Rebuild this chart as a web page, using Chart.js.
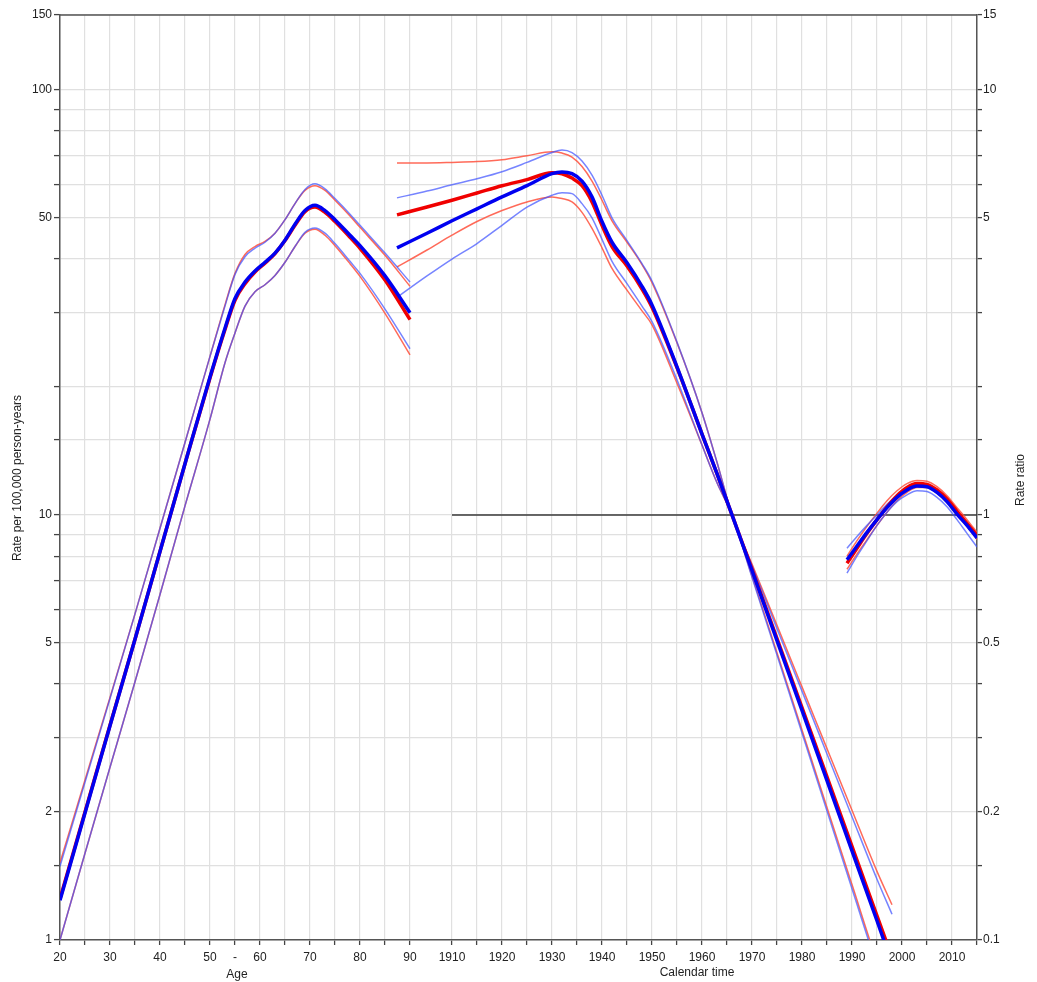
<!DOCTYPE html>
<html>
<head>
<meta charset="utf-8">
<title>Age-period-cohort rates</title>
<script src="https://cdn.jsdelivr.net/npm/chart.js@4.4.0/dist/chart.umd.min.js"></script>
<style>
    html, body { margin: 0; padding: 0; background: #fff; }
    #wrap { width: 1037px; height: 982px; }
</style>
</head>
<body>
<div id="wrap"><canvas id="apc" width="1037" height="982"></canvas></div>
<script>
// =====================================================
// APC plot: age rates (left axis), cohort & period rate ratios (right axis)
// =====================================================

// calendar years share the x axis with age, shifted to the right
const CAL_SHIFT = 1811.6;

// --- Age effect (rate per 100,000 person-years) ---
const ageGroups    = [20, 25, 30, 35, 40, 45, 50, 53, 55, 57, 59, 61, 63, 65, 67, 69, 71, 73, 75, 78, 80, 85, 90];
const ageRateBlue  = [1.24, 1.99, 3.19, 5.1, 8.2, 13.2, 21.1, 27.5, 32.3, 35.3, 37.5, 39.3, 41.3, 44.3, 48.3, 52.0, 53.5, 52.0, 49.5, 45.5, 43.0, 36.5, 29.9];
const ageRateRed   = [1.25, 2.0, 3.2, 5.1, 8.2, 13.2, 21.0, 27.3, 32.0, 35.0, 37.3, 39.1, 41.2, 44.2, 48.0, 51.7, 53.0, 51.5, 49.0, 45.0, 42.4, 35.7, 28.8];
const ageUpperBlue = [1.49, 2.35, 3.7, 5.85, 9.3, 14.8, 23.6, 31.0, 36.8, 40.5, 42.4, 43.8, 46.0, 49.5, 54.0, 58.3, 60.1, 58.5, 55.5, 51.0, 48.0, 41.3, 35.3];
const ageUpperRed  = [1.52, 2.38, 3.72, 5.85, 9.3, 14.8, 23.6, 31.2, 37.0, 41.0, 42.8, 44.0, 46.0, 49.5, 54.0, 58.0, 59.5, 58.0, 55.0, 50.5, 47.5, 40.8, 34.5];
const ageLowerBlue = [1.0, 1.6, 2.55, 4.05, 6.5, 10.5, 16.8, 22.8, 26.8, 31.0, 33.5, 34.8, 36.6, 39.3, 42.8, 46.2, 47.3, 46.0, 43.5, 39.5, 37.0, 30.5, 24.6];
const ageLowerRed  = [1.0, 1.6, 2.55, 4.05, 6.5, 10.5, 16.8, 22.8, 26.8, 31.0, 33.5, 34.8, 36.6, 39.3, 42.8, 46.0, 47.0, 45.5, 43.0, 39.0, 36.4, 29.8, 23.8];

// --- Cohort effect (rate ratio, reference cohort 1966) ---
const cohortYears  = [1899, 1905, 1910, 1915, 1920, 1925, 1930, 1932, 1934, 1936, 1938, 1940, 1942, 1945, 1948, 1950, 1955, 1960, 1963, 1966, 1970, 1975, 1980, 1985, 1990, 1995, 1998];
const cohortRRBlue = [4.25, 4.6, 4.92, 5.25, 5.6, 5.95, 6.35, 6.41, 6.35, 6.1, 5.6, 4.9, 4.38, 3.92, 3.45, 3.12, 2.23, 1.55, 1.25, 1.0, 0.74, 0.506, 0.347, 0.237, 0.162, 0.111, 0.088];
const cohortRRRed  = [5.08, 5.3, 5.5, 5.72, 5.95, 6.15, 6.38, 6.35, 6.2, 5.95, 5.45, 4.8, 4.28, 3.85, 3.4, 3.08, 2.22, 1.55, 1.25, 1.0, 0.745, 0.512, 0.352, 0.242, 0.166, 0.114, 0.091];
const cohortUpBlue = [5.57, 5.78, 5.98, 6.18, 6.42, 6.75, 7.12, 7.22, 7.12, 6.8, 6.3, 5.65, 5.0, 4.42, 3.9, 3.55, 2.55, 1.74, 1.33, 1.0, 0.76, 0.54, 0.385, 0.274, 0.195, 0.139, 0.115];
const cohortUpRed  = [6.73, 6.73, 6.75, 6.78, 6.85, 7.0, 7.15, 7.1, 6.95, 6.6, 6.1, 5.5, 4.92, 4.38, 3.88, 3.52, 2.54, 1.74, 1.33, 1.0, 0.766, 0.55, 0.394, 0.282, 0.202, 0.145, 0.121];
const cohortLoBlue = [3.25, 3.65, 4.0, 4.35, 4.8, 5.3, 5.65, 5.73, 5.7, 5.4, 5.0, 4.45, 3.95, 3.5, 3.1, 2.85, 2.08, 1.46, 1.19, 1.0, 0.713, 0.468, 0.307, 0.201, 0.132, 0.087, 0.07];
const cohortLoRed  = [3.83, 4.2, 4.55, 4.9, 5.2, 5.45, 5.6, 5.55, 5.45, 5.15, 4.72, 4.25, 3.8, 3.38, 3.02, 2.8, 2.04, 1.46, 1.19, 1.0, 0.718, 0.474, 0.312, 0.205, 0.135, 0.089, 0.072];

// --- Period effect (rate ratio) ---
const periodYears  = [1989, 1991, 1993, 1995, 1997, 1999, 2001, 2003, 2005, 2007, 2009, 2011, 2013, 2015];
const periodRRBlue = [0.784, 0.845, 0.91, 0.975, 1.04, 1.10, 1.145, 1.17, 1.165, 1.13, 1.075, 1.005, 0.945, 0.883];
const periodRRRed  = [0.77, 0.835, 0.905, 0.975, 1.045, 1.11, 1.16, 1.185, 1.18, 1.145, 1.09, 1.02, 0.955, 0.895];
const periodUpBlue = [0.835, 0.89, 0.945, 1.0, 1.06, 1.11, 1.15, 1.175, 1.17, 1.135, 1.08, 1.01, 0.95, 0.89];
const periodUpRed  = [0.80, 0.87, 0.94, 1.01, 1.08, 1.14, 1.185, 1.205, 1.2, 1.165, 1.11, 1.04, 0.975, 0.91];
const periodLoBlue = [0.73, 0.80, 0.87, 0.945, 1.015, 1.075, 1.115, 1.14, 1.135, 1.10, 1.045, 0.975, 0.905, 0.84];
const periodLoRed  = [0.745, 0.81, 0.875, 0.945, 1.015, 1.08, 1.13, 1.16, 1.16, 1.125, 1.07, 1.0, 0.94, 0.875];

// reference line RR = 1
const refYears = [1910, 2015];
const refRR    = [1, 1];

// --- Tick labels ---
const ageTicks      = [20, 25, 30, 35, 40, 45, 50, 55, 60, 65, 70, 75, 80, 85, 90];
const calendarTicks = [1910, 1915, 1920, 1925, 1930, 1935, 1940, 1945, 1950, 1955, 1960, 1965, 1970, 1975, 1980, 1985, 1990, 1995, 2000, 2005, 2010, 2015];
const rateTicks     = [1, 1.5, 2, 3, 4, 5, 6, 7, 8, 9, 10, 15, 20, 30, 40, 50, 60, 70, 80, 90, 100, 150];
const rateLabelled  = [1, 2, 5, 10, 50, 100, 150];
const rrTicks       = [0.1, 0.15, 0.2, 0.3, 0.4, 0.5, 0.6, 0.7, 0.8, 0.9, 1, 1.5, 2, 3, 4, 5, 6, 7, 8, 9, 10, 15];
const rrLabelled    = [0.1, 0.2, 0.5, 1, 5, 10, 15];

// ------------------------------------------------------
// Helpers
// ------------------------------------------------------
const calX = yr => yr - CAL_SHIFT;
const pts = (xs, ys, fx = x => x) => xs.map((x, i) => ({ x: fx(x), y: ys[i] }));

const RED = '#f00000', BLUE = '#0000f0';
const RED_CI = 'rgba(255,80,60,0.85)', BLUE_CI = 'rgba(60,80,255,0.7)';

function line(data, color, width, axis) {
    return {
        data, borderColor: color, borderWidth: width, yAxisID: axis,
        pointRadius: 0, fill: false, cubicInterpolationMode: 'monotone'
    };
}

// first dataset is drawn on top
const datasets = [
    line(pts(ageGroups, ageRateBlue), BLUE, 3.5, 'y'),
    line(pts(cohortYears, cohortRRBlue, calX), BLUE, 3.5, 'yRR'),
    line(pts(periodYears, periodRRBlue, calX), BLUE, 3.5, 'yRR'),
    line(pts(ageGroups, ageRateRed), RED, 3.5, 'y'),
    line(pts(cohortYears, cohortRRRed, calX), RED, 3.5, 'yRR'),
    line(pts(periodYears, periodRRRed, calX), RED, 3.5, 'yRR'),
    line(pts(ageGroups, ageUpperBlue), BLUE_CI, 1.5, 'y'),
    line(pts(ageGroups, ageLowerBlue), BLUE_CI, 1.5, 'y'),
    line(pts(cohortYears, cohortUpBlue, calX), BLUE_CI, 1.5, 'yRR'),
    line(pts(cohortYears, cohortLoBlue, calX), BLUE_CI, 1.5, 'yRR'),
    line(pts(periodYears, periodUpBlue, calX), BLUE_CI, 1.5, 'yRR'),
    line(pts(periodYears, periodLoBlue, calX), BLUE_CI, 1.5, 'yRR'),
    line(pts(ageGroups, ageUpperRed), RED_CI, 1.5, 'y'),
    line(pts(ageGroups, ageLowerRed), RED_CI, 1.5, 'y'),
    line(pts(cohortYears, cohortUpRed, calX), RED_CI, 1.5, 'yRR'),
    line(pts(cohortYears, cohortLoRed, calX), RED_CI, 1.5, 'yRR'),
    line(pts(periodYears, periodUpRed, calX), RED_CI, 1.5, 'yRR'),
    line(pts(periodYears, periodLoRed, calX), RED_CI, 1.5, 'yRR'),
    line(pts(refYears, refRR, calX), '#3a3a3a', 1.5, 'yRR')
];

// ------------------------------------------------------
// Frame + axis titles
// ------------------------------------------------------
const frameTitles = {
    id: 'frameTitles',
    afterDraw(chart) {
        const { ctx, chartArea: a, scales } = chart;
        ctx.save();
        ctx.strokeStyle = '#555';
        ctx.lineWidth = 1.5;
        ctx.beginPath();
        ctx.moveTo(a.left, a.top);
        ctx.lineTo(a.right, a.top);
        ctx.stroke();

        ctx.fillStyle = '#222';
        ctx.font = '12px "Liberation Sans", Arial, sans-serif';
        ctx.textAlign = 'center';
        ctx.textBaseline = 'middle';
        ctx.fillText('Age', scales.x.getPixelForValue(55.4), 975);
        ctx.fillText('Calendar time', scales.x.getPixelForValue(calX(1959)), 973);

        ctx.translate(18, 478);
        ctx.rotate(-Math.PI / 2);
        ctx.fillText('Rate per 100,000 person-years', 0, 0);
        ctx.restore();

        ctx.save();
        ctx.fillStyle = '#222';
        ctx.font = '12px "Liberation Sans", Arial, sans-serif';
        ctx.textAlign = 'center';
        ctx.textBaseline = 'middle';
        ctx.translate(1021, 480);
        ctx.rotate(-Math.PI / 2);
        ctx.fillText('Rate ratio', 0, 0);
        ctx.restore();
    }
};

const tickFont = { family: '"Liberation Sans", Arial, sans-serif', size: 12 };
const gridStyle = { color: '#e0e0e0', lineWidth: 1.2, tickColor: '#444', tickWidth: 1.3 };
const borderStyle = { color: '#555', width: 1.5 };

new Chart(document.getElementById('apc'), {
    type: 'line',
    data: { datasets },
    plugins: [frameTitles],
    options: {
        responsive: false,
        animation: false,
        layout: { padding: { top: 15, left: 0, right: 0, bottom: 0 } },
        plugins: { legend: { display: false }, tooltip: { enabled: false } },
        scales: {
            x: {
                type: 'linear',
                min: 20,
                max: calX(2015),
                afterBuildTicks: s => {
                    s.ticks = ageTicks.concat(calendarTicks.map(calX)).map(v => ({ value: v }));
                },
                afterFit: s => { s.height = 42; },
                grid: { ...gridStyle, tickLength: 5 },
                border: borderStyle,
                ticks: {
                    font: tickFont, color: '#222', padding: 5,
                    autoSkip: false, minRotation: 0, maxRotation: 0,
                    callback: v => {
                        if (v <= 90) return v % 10 === 0 ? String(v) : (v === 55 ? '-' : '');
                        const yr = Math.round(v + CAL_SHIFT);
                        return (yr % 10 === 0 && yr < 2015) ? String(yr) : '';
                    }
                }
            },
            y: {
                type: 'logarithmic',
                position: 'left',
                min: 1,
                max: 150,
                afterBuildTicks: s => { s.ticks = rateTicks.map(v => ({ value: v })); },
                afterFit: s => { s.width = 60; },
                grid: { ...gridStyle, tickLength: 6 },
                border: borderStyle,
                ticks: {
                    font: tickFont, color: '#222', padding: 2, autoSkip: false,
                    callback: v => rateLabelled.includes(v) ? String(v) : ''
                }
            },
            yRR: {
                type: 'logarithmic',
                position: 'right',
                min: 0.1,
                max: 15,
                afterBuildTicks: s => { s.ticks = rrTicks.map(v => ({ value: v })); },
                afterFit: s => { s.width = 60; },
                grid: { ...gridStyle, drawOnChartArea: false, tickLength: 5 },
                border: borderStyle,
                ticks: {
                    font: tickFont, color: '#222', padding: 1, autoSkip: false,
                    callback: v => rrLabelled.includes(v) ? String(v) : ''
                }
            }
        }
    }
});
</script>
</body>
</html>
